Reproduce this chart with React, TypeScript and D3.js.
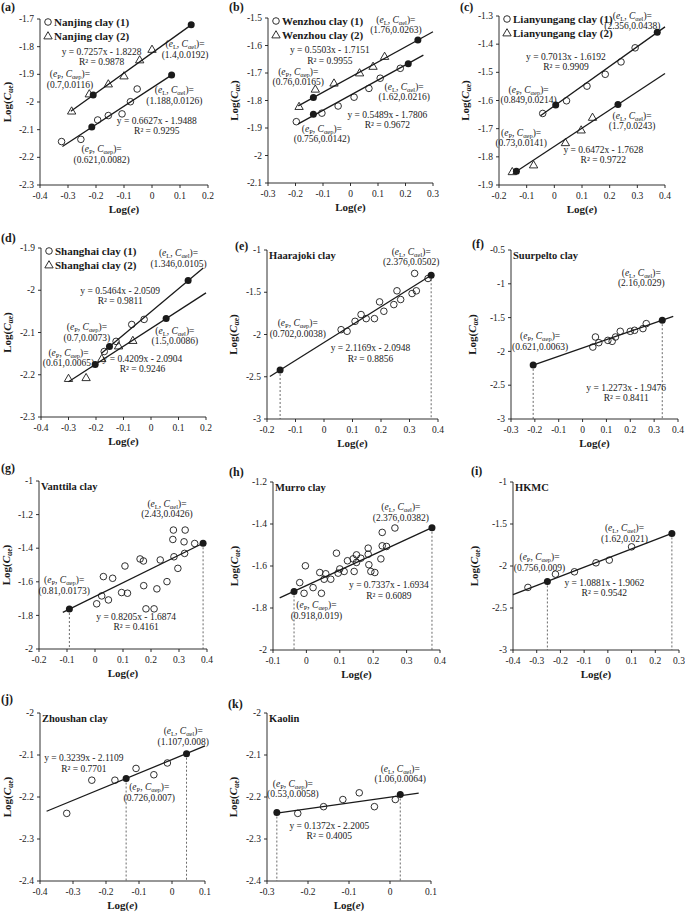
import React from 'react';
import * as d3 from 'd3';

type Pt = [number, number];

// (a) Nanjing clay
const nanjing1: Pt[] = [[-0.323, -2.143], [-0.254, -2.135], [-0.194, -2.065], [-0.156, -2.049], [-0.107, -2.043], [-0.077, -1.999], [-0.053, -1.953]];
const nanjing1Fit = [0.6627, -1.9488, -0.32, 0.075];
const nanjing1Ends: Pt[] = [[-0.215, -2.09], [0.07, -1.902]];
const nanjing2: Pt[] = [[-0.287, -2.033], [-0.224, -1.971], [-0.156, -1.935], [-0.1, -1.906], [-0.044, -1.848], [0.0, -1.81]];
const nanjing2Fit = [0.7257, -1.8228, -0.29, 0.15];
const nanjing2Ends: Pt[] = [[-0.21, -1.975], [0.14, -1.721]];

// (b) Wenzhou clay
const wenzhou1: Pt[] = [[-0.197, -1.877], [-0.104, -1.846], [-0.045, -1.82], [0.013, -1.788], [0.067, -1.756], [0.108, -1.719], [0.181, -1.683]];
const wenzhou1Fit = [0.5489, -1.7806, -0.19, 0.265];
const wenzhou1Ends: Pt[] = [[-0.135, -1.85], [0.21, -1.666]];
const wenzhou2: Pt[] = [[-0.187, -1.822], [-0.128, -1.759], [-0.06, -1.737], [0.033, -1.7], [0.082, -1.676], [0.124, -1.64]];
const wenzhou2Fit = [0.5503, -1.7151, -0.19, 0.3];
const wenzhou2Ends: Pt[] = [[-0.135, -1.789], [0.245, -1.58]];

// (c) Lianyungang clay
const lian1: Pt[] = [[-0.042, -1.646], [0.044, -1.601], [0.118, -1.549], [0.184, -1.507], [0.241, -1.463], [0.292, -1.413]];
const lian1Fit = [0.7013, -1.6192, -0.05, 0.4];
const lian1Ends: Pt[] = [[0.005, -1.616], [0.372, -1.358]];
const lian2: Pt[] = [[-0.152, -1.853], [-0.075, -1.829], [0.04, -1.75], [0.097, -1.705], [0.138, -1.66]];
const lian2Fit = [0.6472, -1.7628, -0.15, 0.4];
const lian2Ends: Pt[] = [[-0.137, -1.851], [0.23, -1.614]];

// (d) Shanghai clay
const shanghai1: Pt[] = [[-0.17, -2.145], [-0.127, -2.121], [-0.07, -2.081], [-0.025, -2.069]];
const shanghai1Fit = [0.5464, -2.0509, -0.18, 0.19];
const shanghai1Ends: Pt[] = [[-0.151, -2.133], [0.135, -1.977]];
const shanghai2: Pt[] = [[-0.3, -2.209], [-0.236, -2.207], [-0.179, -2.162], [-0.118, -2.132], [-0.066, -2.119]];
const shanghai2Fit = [0.4209, -2.0904, -0.3, 0.2];
const shanghai2Ends: Pt[] = [[-0.203, -2.176], [0.055, -2.067]];

// (e)..(k) single clays
const haarajoki: Pt[] = [[0.06, -1.943], [0.081, -1.962], [0.109, -1.844], [0.13, -1.764], [0.148, -1.812], [0.177, -1.812], [0.195, -1.614], [0.21, -1.725], [0.245, -1.646], [0.256, -1.483], [0.269, -1.586], [0.309, -1.515], [0.318, -1.277], [0.324, -1.483], [0.365, -1.337]];
const haarajokiFit = [2.1169, -2.0948, -0.19, 0.376];
const haarajokiEnds: Pt[] = [[-0.154, -2.42], [0.376, -1.299]];

const suurpelto: Pt[] = [[0.043, -1.936], [0.054, -1.787], [0.068, -1.871], [0.106, -1.837], [0.124, -1.851], [0.138, -1.787], [0.158, -1.703], [0.2, -1.703], [0.218, -1.688], [0.253, -1.663], [0.267, -1.589]];
const suurpeltoFit = [1.2273, -1.9476, -0.207, 0.38];
const suurpeltoEnds: Pt[] = [[-0.207, -2.2], [0.334, -1.538]];

const vanttila: Pt[] = [[0.006, -1.731], [0.024, -1.684], [0.03, -1.569], [0.048, -1.708], [0.063, -1.579], [0.095, -1.664], [0.107, -1.506], [0.116, -1.668], [0.161, -1.464], [0.173, -1.476], [0.174, -1.623], [0.182, -1.761], [0.211, -1.761], [0.221, -1.642], [0.233, -1.47], [0.257, -1.599], [0.278, -1.348], [0.28, -1.292], [0.282, -1.451], [0.296, -1.52], [0.318, -1.362], [0.32, -1.431], [0.322, -1.292], [0.356, -1.372]];
const vanttilaFit = [0.8205, -1.6874, -0.115, 0.386];
const vanttilaEnds: Pt[] = [[-0.0915, -1.762], [0.386, -1.371]];

const murro: Pt[] = [[-0.02, -1.679], [-0.003, -1.599], [-0.007, -1.73], [0.02, -1.703], [0.04, -1.631], [0.045, -1.73], [0.053, -1.663], [0.058, -1.637], [0.073, -1.663], [0.09, -1.539], [0.095, -1.634], [0.1, -1.614], [0.113, -1.626], [0.123, -1.575], [0.14, -1.566], [0.143, -1.626], [0.15, -1.547], [0.15, -1.583], [0.163, -1.563], [0.185, -1.515], [0.185, -1.544], [0.187, -1.594], [0.193, -1.626], [0.205, -1.631], [0.223, -1.566], [0.227, -1.44], [0.227, -1.504], [0.24, -1.507], [0.265, -1.419]];
const murroFit = [0.7337, -1.6934, -0.08, 0.376];
const murroEnds: Pt[] = [[-0.037, -1.721], [0.376, -1.418]];

const hkmc: Pt[] = [[-0.337, -2.255], [-0.221, -2.097], [-0.141, -2.069], [-0.05, -1.962], [0.006, -1.93], [0.1, -1.772]];
const hkmcFit = [1.0881, -1.9062, -0.4, 0.27];
const hkmcEnds: Pt[] = [[-0.255, -2.184], [0.27, -1.612]];

const zhoushan: Pt[] = [[-0.319, -2.239], [-0.243, -2.16], [-0.173, -2.16], [-0.109, -2.132], [-0.055, -2.147], [-0.014, -2.119]];
const zhoushanFit = [0.3239, -2.1109, -0.38, 0.1];
const zhoushanEnds: Pt[] = [[-0.139, -2.156], [0.044, -2.097]];

const kaolin: Pt[] = [[-0.225, -2.239], [-0.162, -2.223], [-0.115, -2.206], [-0.075, -2.19], [-0.038, -2.223], [0.013, -2.206]];
const kaolinFit = [0.1372, -2.2005, -0.276, 0.07];
const kaolinEnds: Pt[] = [[-0.276, -2.237], [0.025, -2.194]];

// tick values
const ticksA = { x: [-0.4, -0.3, -0.2, -0.1, 0, 0.1, 0.2], y: [-2.3, -2.2, -2.1, -2, -1.9, -1.8, -1.7] };
const ticksB = { x: [-0.3, -0.2, -0.1, 0, 0.1, 0.2, 0.3], y: [-2.1, -2, -1.9, -1.8, -1.7, -1.6, -1.5] };
const ticksC = { x: [-0.2, -0.1, 0, 0.1, 0.2, 0.3, 0.4], y: [-1.9, -1.8, -1.7, -1.6, -1.5, -1.4, -1.3] };
const ticksD = { x: [-0.4, -0.3, -0.2, -0.1, 0, 0.1, 0.2], y: [-2.3, -2.2, -2.1, -2, -1.9] };
const ticksE = { x: [-0.2, -0.1, 0, 0.1, 0.2, 0.3, 0.4], y: [-3, -2.5, -2, -1.5, -1] };
const ticksF = { x: [-0.3, -0.2, -0.1, 0, 0.1, 0.2, 0.3, 0.4], y: [-3, -2.5, -2, -1.5, -1, -0.5] };
const ticksG = { x: [-0.2, -0.1, 0, 0.1, 0.2, 0.3, 0.4], y: [-2, -1.8, -1.6, -1.4, -1.2, -1] };
const ticksH = { x: [-0.1, 0, 0.1, 0.2, 0.3, 0.4], y: [-2, -1.8, -1.6, -1.4, -1.2] };
const ticksI = { x: [-0.4, -0.3, -0.2, -0.1, 0, 0.1, 0.2, 0.3], y: [-3, -2.5, -2, -1.5, -1] };
const ticksJ = { x: [-0.4, -0.3, -0.2, -0.1, 0, 0.1], y: [-2.4, -2.3, -2.2, -2.1, -2] };
const ticksK = { x: [-0.3, -0.2, -0.1, 0, 0.1], y: [-2.4, -2.3, -2.2, -2.1, -2] };

type Note = { at: Pt; kind: 'P' | 'L' | 'eq'; text: string; r2?: string };

const notesA: Note[] = [
  { at: [-0.18, -1.83], kind: 'eq', text: 'y = 0.7257x - 1.8228', r2: '0.9878' },
  { at: [-0.293, -1.911], kind: 'P', text: '(0.7,0.0116)' },
  { at: [0.118, -1.802], kind: 'L', text: '(1.4,0.0192)' },
  { at: [0.08, -1.969], kind: 'L', text: '(1.188,0.0126)' },
  { at: [0.017, -2.08], kind: 'eq', text: 'y = 0.6627x - 1.9488', r2: '0.9295' },
  { at: [-0.18, -2.182], kind: 'P', text: '(0.621,0.0082)' },
];
const notesB: Note[] = [
  { at: [0.165, -1.518], kind: 'L', text: '(1.76,0.0263)' },
  { at: [-0.075, -1.628], kind: 'eq', text: 'y = 0.5503x - 1.7151', r2: '0.9955' },
  { at: [-0.19, -1.706], kind: 'P', text: '(0.76,0.0165)' },
  { at: [0.195, -1.762], kind: 'L', text: '(1.62,0.0216)' },
  { at: [0.134, -1.863], kind: 'eq', text: 'y = 0.5489x - 1.7806', r2: '0.9672' },
  { at: [-0.104, -1.915], kind: 'P', text: '(0.756,0.0142)' },
];
const notesC: Note[] = [
  { at: [0.282, -1.309], kind: 'L', text: '(2.356,0.0438)' },
  { at: [0.042, -1.455], kind: 'eq', text: 'y = 0.7013x - 1.6192', r2: '0.9909' },
  { at: [-0.093, -1.573], kind: 'P', text: '(0.849,0.0214)' },
  { at: [0.281, -1.664], kind: 'L', text: '(1.7,0.0243)' },
  { at: [-0.12, -1.726], kind: 'P', text: '(0.73,0.0141)' },
  { at: [0.177, -1.785], kind: 'eq', text: 'y = 0.6472x - 1.7628', r2: '0.9722' },
];
const notesD: Note[] = [
  { at: [0.1, -1.92], kind: 'L', text: '(1.346,0.0105)' },
  { at: [-0.112, -2.008], kind: 'eq', text: 'y = 0.5464x - 2.0509', r2: '0.9811' },
  { at: [-0.233, -2.095], kind: 'P', text: '(0.7,0.0073)' },
  { at: [0.087, -2.103], kind: 'L', text: '(1.5,0.0086)' },
  { at: [-0.3, -2.156], kind: 'P', text: '(0.61,0.0065)' },
  { at: [-0.031, -2.17], kind: 'eq', text: 'y = 0.4209x - 2.0904', r2: '0.9246' },
];
const notesE: Note[] = [
  { at: [0.306, -1.059], kind: 'L', text: '(2.376,0.0502)' },
  { at: [-0.092, -1.903], kind: 'P', text: '(0.702,0.0038)' },
  { at: [0.163, -2.2], kind: 'eq', text: 'y = 2.1169x - 2.0948', r2: '0.8856' },
];
const notesF: Note[] = [
  { at: [0.246, -0.886], kind: 'L', text: '(2.16,0.029)' },
  { at: [-0.178, -1.822], kind: 'P', text: '(0.621,0.0063)' },
  { at: [0.183, -2.579], kind: 'eq', text: 'y = 1.2273x - 1.9476', r2: '0.8411' },
];
const notesG: Note[] = [
  { at: [0.257, -1.154], kind: 'L', text: '(2.43,0.0426)' },
  { at: [-0.11, -1.609], kind: 'P', text: '(0.81,0.0173)' },
  { at: [0.147, -1.826], kind: 'eq', text: 'y = 0.8205x - 1.6874', r2: '0.4161' },
];
const notesH: Note[] = [
  { at: [0.283, -1.335], kind: 'L', text: '(2.376,0.0382)' },
  { at: [0.247, -1.706], kind: 'eq', text: 'y = 0.7337x - 1.6934', r2: '0.6089' },
  { at: [0.03, -1.801], kind: 'P', text: '(0.918,0.019)' },
];
const notesI: Note[] = [
  { at: [0.07, -1.586], kind: 'L', text: '(1.62,0.021)' },
  { at: [-0.288, -1.931], kind: 'P', text: '(0.756,0.009)' },
  { at: [-0.015, -2.24], kind: 'eq', text: 'y = 1.0881x - 1.9062', r2: '0.9542' },
];
const notesJ: Note[] = [
  { at: [-0.267, -2.115], kind: 'eq', text: 'y = 0.3239x - 2.1109', r2: '0.7701' },
  { at: [0.034, -2.051], kind: 'L', text: '(1.107,0.008)' },
  { at: [-0.069, -2.184], kind: 'P', text: '(0.726,0.007)' },
];
const notesK: Note[] = [
  { at: [0.025, -2.14], kind: 'L', text: '(1.06,0.0064)' },
  { at: [-0.237, -2.176], kind: 'P', text: '(0.53,0.0058)' },
  { at: [-0.148, -2.275], kind: 'eq', text: 'y = 0.1372x - 2.2005', r2: '0.4005' },
];

type Series = { name?: string; pts: Pt[]; marker: 'circle' | 'tri'; fit: number[]; ends: Pt[] };
type Panel = {
  tag: string; tagAt: Pt; box: number[]; yGap: number;
  ticks: { x: number[]; y: number[] };
  series: Series[]; notes: Note[]; title?: string; drops?: boolean;
};

const panels: Panel[] = [
  { tag: '(a)', tagAt: [1, 11], box: [40, 19, 208, 185], yGap: 33, ticks: ticksA, notes: notesA, series: [
    { name: 'Nanjing clay (1)', pts: nanjing1, marker: 'circle', fit: nanjing1Fit, ends: nanjing1Ends },
    { name: 'Nanjing clay (2)', pts: nanjing2, marker: 'tri', fit: nanjing2Fit, ends: nanjing2Ends },
  ] },
  { tag: '(b)', tagAt: [229, 11], box: [268, 18, 433, 183], yGap: 34, ticks: ticksB, notes: notesB, series: [
    { name: 'Wenzhou clay (1)', pts: wenzhou1, marker: 'circle', fit: wenzhou1Fit, ends: wenzhou1Ends },
    { name: 'Wenzhou clay (2)', pts: wenzhou2, marker: 'tri', fit: wenzhou2Fit, ends: wenzhou2Ends },
  ] },
  { tag: '(c)', tagAt: [460, 11], box: [499, 16, 665, 185], yGap: 34, ticks: ticksC, notes: notesC, series: [
    { name: 'Lianyungang clay (1)', pts: lian1, marker: 'circle', fit: lian1Fit, ends: lian1Ends },
    { name: 'Lianyungang clay (2)', pts: lian2, marker: 'tri', fit: lian2Fit, ends: lian2Ends },
  ] },
  { tag: '(d)', tagAt: [1, 242], box: [41, 248, 206, 417], yGap: 34, ticks: ticksD, notes: notesD, series: [
    { name: 'Shanghai clay (1)', pts: shanghai1, marker: 'circle', fit: shanghai1Fit, ends: shanghai1Ends },
    { name: 'Shanghai clay (2)', pts: shanghai2, marker: 'tri', fit: shanghai2Fit, ends: shanghai2Ends },
  ] },
  { tag: '(e)', tagAt: [235, 250], box: [267, 250, 438, 419], yGap: 34, ticks: ticksE, notes: notesE, title: 'Haarajoki clay', drops: true,
    series: [{ pts: haarajoki, marker: 'circle', fit: haarajokiFit, ends: haarajokiEnds }] },
  { tag: '(f)', tagAt: [472, 248], box: [511, 250, 678, 419], yGap: 39, ticks: ticksF, notes: notesF, title: 'Suurpelto clay', drops: true,
    series: [{ pts: suurpelto, marker: 'circle', fit: suurpeltoFit, ends: suurpeltoEnds }] },
  { tag: '(g)', tagAt: [1, 472], box: [39, 481, 207, 649], yGap: 33, ticks: ticksG, notes: notesG, title: 'Vanttila clay', drops: true,
    series: [{ pts: vanttila, marker: 'circle', fit: vanttilaFit, ends: vanttilaEnds }] },
  { tag: '(h)', tagAt: [229, 476], box: [273, 482, 440, 650], yGap: 39, ticks: ticksH, notes: notesH, title: 'Murro clay', drops: true,
    series: [{ pts: murro, marker: 'circle', fit: murroFit, ends: murroEnds }] },
  { tag: '(i)', tagAt: [471, 475], box: [513, 482, 679, 650], yGap: 39, ticks: ticksI, notes: notesI, title: 'HKMC', drops: true,
    series: [{ pts: hkmc, marker: 'circle', fit: hkmcFit, ends: hkmcEnds }] },
  { tag: '(j)', tagAt: [1, 703], box: [40, 713, 205, 881], yGap: 33, ticks: ticksJ, notes: notesJ, title: 'Zhoushan clay', drops: true,
    series: [{ pts: zhoushan, marker: 'circle', fit: zhoushanFit, ends: zhoushanEnds }] },
  { tag: '(k)', tagAt: [228, 708], box: [267, 713, 431, 881], yGap: 34, ticks: ticksK, notes: notesK, title: 'Kaolin', drops: true,
    series: [{ pts: kaolin, marker: 'circle', fit: kaolinFit, ends: kaolinEnds }] },
];

const FONT = '"Liberation Serif", "Times New Roman", serif';
const INK = '#1a1a1a';
const fmt = (v: number) => String(Math.round(v * 10) / 10);
const triPath = d3.symbol().type(d3.symbolTriangle).size(30)() as string;

function Marker({ kind, cx, cy }: { kind: 'circle' | 'tri'; cx: number; cy: number }) {
  if (kind === 'circle') return <circle cx={cx} cy={cy} r={3.3} fill="none" stroke={INK} strokeWidth={0.9} />;
  return <path d={triPath} transform={`translate(${cx},${cy + 0.5})`} fill="none" stroke={INK} strokeWidth={0.9} />;
}

function NoteText({ n, x, y }: { n: Note; x: number; y: number }) {
  const first = n.kind === 'eq' ? n.text : (
    <>
      <tspan>(</tspan>
      <tspan fontStyle="italic">e</tspan>
      <tspan fontSize={6.5} dy={2}>{n.kind}</tspan>
      <tspan dy={-2}>, </tspan>
      <tspan fontStyle="italic">C</tspan>
      <tspan fontSize={6.5} dy={2}>{n.kind === 'P' ? 'αep' : 'αel'}</tspan>
      <tspan dy={-2}>)=</tspan>
    </>
  );
  const second = n.kind === 'eq' ? `R² = ${n.r2}` : n.text;
  return (
    <g fontSize={9.5} textAnchor="middle" fill={INK}>
      <text x={x} y={y}>{first}</text>
      <text x={x} y={y + 10.3}>{second}</text>
    </g>
  );
}

function PanelView({ p }: { p: Panel }) {
  const [l, t, r, b] = p.box;
  const xs = p.ticks.x, ys = p.ticks.y;
  const x = d3.scaleLinear().domain([xs[0], xs[xs.length - 1]]).range([l, r]);
  const y = d3.scaleLinear().domain([ys[0], ys[ys.length - 1]]).range([b, t]);
  const line = d3.line<Pt>().x(d => x(d[0])).y(d => y(d[1]));
  const midY = (t + b) / 2;
  return (
    <g fontFamily={FONT}>
      <text x={p.tagAt[0]} y={p.tagAt[1]} fontSize={12} fontWeight="bold" fill={INK}>{p.tag}</text>
      <line x1={l} x2={l} y1={t} y2={b} stroke={INK} strokeWidth={0.9} />
      <line x1={l} x2={r} y1={b} y2={b} stroke={INK} strokeWidth={0.9} />
      {ys.map(v => (
        <g key={'y' + v}>
          <line x1={l - 3} x2={l} y1={y(v)} y2={y(v)} stroke={INK} strokeWidth={0.9} />
          <text x={l - 6} y={y(v)} dy="0.33em" textAnchor="end" fontSize={9.5} fill={INK}>{fmt(v)}</text>
        </g>
      ))}
      {xs.map(v => (
        <g key={'x' + v}>
          <line x1={x(v)} x2={x(v)} y1={b} y2={b + 3} stroke={INK} strokeWidth={0.9} />
          <text x={x(v)} y={b + 14} textAnchor="middle" fontSize={9.5} fill={INK}>{fmt(v)}</text>
        </g>
      ))}
      <text x={(l + r) / 2} y={b + 28} textAnchor="middle" fontSize={11} fontWeight="bold" fill={INK}>
        <tspan>Log(</tspan><tspan fontStyle="italic">e</tspan><tspan>)</tspan>
      </text>
      <text transform={`translate(${l - p.yGap},${midY}) rotate(-90)`} textAnchor="middle" dy="0.35em" fontSize={11} fontWeight="bold" fill={INK}>
        <tspan>Log(</tspan>
        <tspan fontStyle="italic">C</tspan>
        <tspan fontSize={7.5} dy={2.5}>αe</tspan>
        <tspan dy={-2.5}>)</tspan>
      </text>
      {p.title && <text x={l + 2} y={t + 9} fontSize={10.5} fontWeight="bold" fill={INK}>{p.title}</text>}
      {p.series.map((s, i) => s.name && (
        <g key={'lg' + i}>
          <Marker kind={s.marker} cx={l + 8} cy={t + 3 + i * 14} />
          <text x={l + 14} y={t + 7 + i * 14} fontSize={11} fontWeight="bold" fill={INK}>{s.name}</text>
        </g>
      ))}
      {p.drops && p.series.flatMap((s, i) => s.ends.map((e, j) => (
        <line key={`dr${i}${j}`} x1={x(e[0])} x2={x(e[0])} y1={y(e[1])} y2={b} stroke="#444" strokeWidth={0.8} strokeDasharray="2,2" />
      )))}
      {p.series.map((s, i) => {
        const [m, c, x0, x1] = s.fit;
        const pts: Pt[] = [[x0, m * x0 + c], [x1, m * x1 + c]];
        return (
          <g key={'s' + i}>
            <path d={line(pts) || ''} stroke={INK} strokeWidth={1.3} fill="none" />
            {s.pts.map((d, k) => <Marker key={k} kind={s.marker} cx={x(d[0])} cy={y(d[1])} />)}
            {s.ends.map((e, k) => <circle key={'e' + k} cx={x(e[0])} cy={y(e[1])} r={3.5} fill={INK} />)}
          </g>
        );
      })}
      {p.notes.map((n, i) => <NoteText key={'n' + i} n={n} x={x(n.at[0])} y={y(n.at[1])} />)}
    </g>
  );
}

export default function App() {
  return (
    <svg width={685} height={913} style={{ position: 'absolute', left: 0, top: 0, background: '#fff' }}>
      <rect width={685} height={913} fill="#fff" />
      {panels.map(p => <PanelView key={p.tag} p={p} />)}
    </svg>
  );
}
